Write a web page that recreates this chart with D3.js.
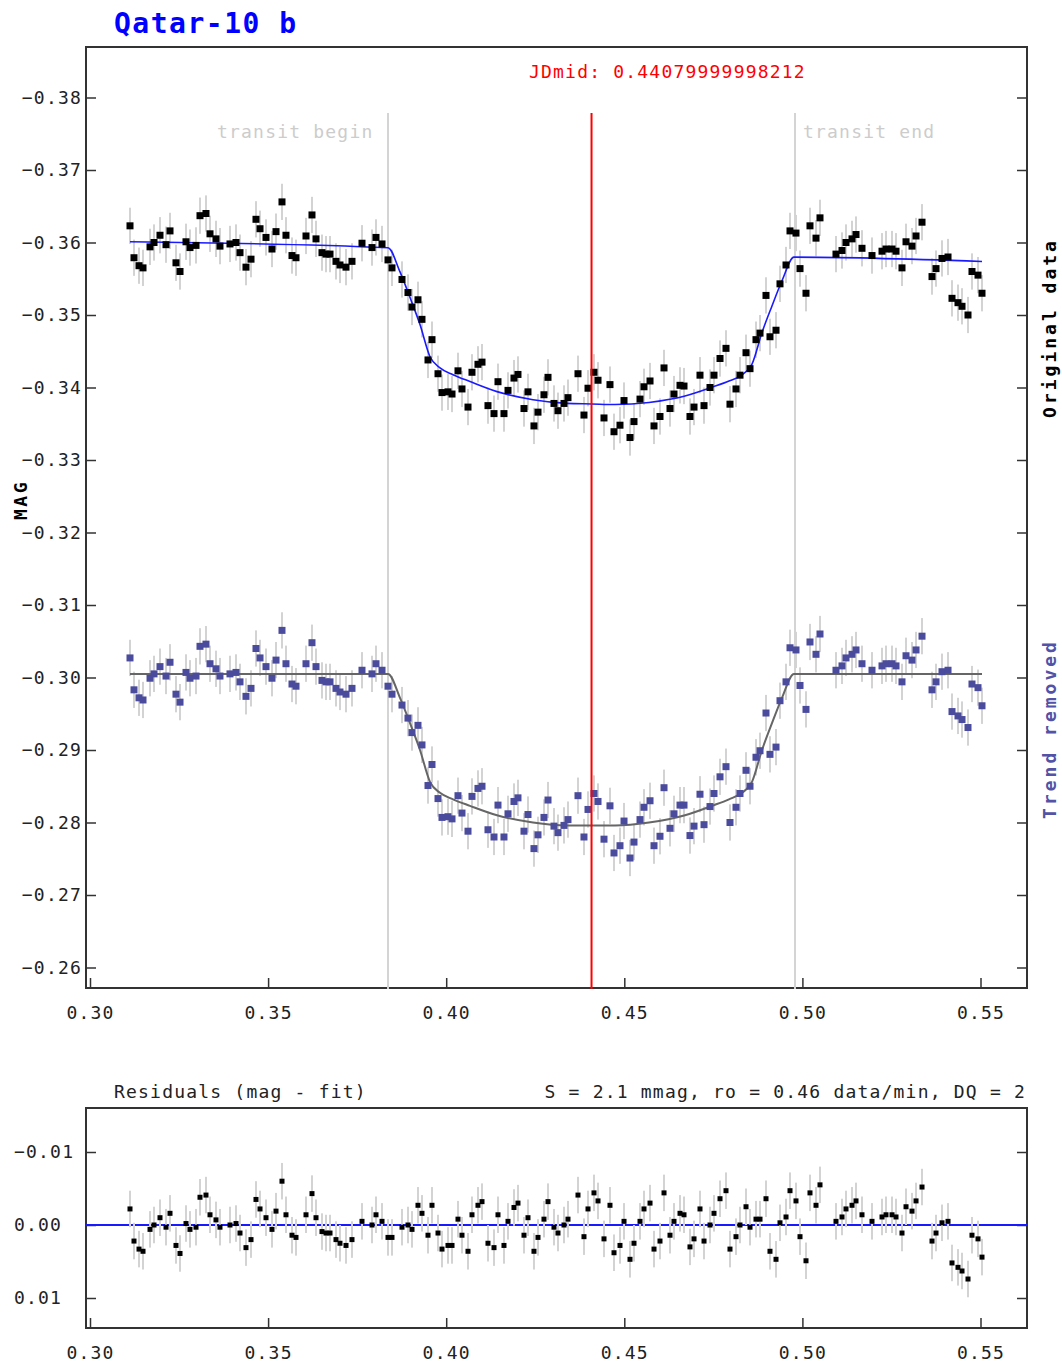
<!DOCTYPE html>
<html><head><meta charset="utf-8">
<script src="https://cdn.jsdelivr.net/npm/d3@7"></script>
<style>
body{margin:0;background:#fff}
svg{display:block}
text{font-family:"DejaVu Sans Mono",monospace}
</style>
</head><body>
<svg id="c" width="1062" height="1365"></svg>
<script>
// ---------------- data ----------------
const times = [
0.31123,0.31235,0.31376,0.31488,0.31685,0.31797,0.31965,0.32134,0.32246,0.32414,
0.32527,0.32695,0.32807,0.32976,0.33088,0.33256,0.33369,0.33537,0.33649,0.33930,
0.34099,0.34211,0.34379,0.34520,0.34660,0.34773,0.34941,0.35109,0.35222,0.35390,
0.35502,0.35671,0.35783,0.36064,0.36232,0.36345,0.36513,0.36625,0.36738,0.36906,
0.37018,0.37187,0.37355,0.37636,0.37917,0.38029,0.38198,0.38366,0.38478,0.38759,
0.38927,0.39040,0.39208,0.39320,0.39489,0.39601,0.39770,0.39882,0.40050,0.40163,
0.40331,0.40443,0.40612,0.40724,0.40892,0.41005,0.41173,0.41342,0.41454,0.41622,
0.41735,0.41903,0.42015,0.42184,0.42296,0.42464,0.42577,0.42745,0.42858,0.43026,
0.43138,0.43307,0.43419,0.43700,0.43868,0.43981,0.44149,0.44262,0.44430,0.44598,
0.44711,0.44879,0.44992,0.45160,0.45272,0.45441,0.45553,0.45722,0.45834,0.46002,
0.46115,0.46283,0.46395,0.46564,0.46676,0.46844,0.46957,0.47125,0.47238,0.47406,
0.47518,0.47687,0.47855,0.47967,0.48136,0.48248,0.48417,0.48529,0.48697,0.48810,
0.48978,0.49090,0.49259,0.49371,0.49540,0.49652,0.49820,0.49933,0.50101,0.50213,
0.50382,0.50494,0.50943,0.51112,0.51224,0.51393,0.51505,0.51673,0.51954,0.52235,
0.52347,0.52516,0.52628,0.52796,0.52909,0.53077,0.53190,0.53358,0.53639,0.53751,
0.53919,0.54088,0.54200,0.54368,0.54481,0.54649,0.54761,0.54930,0.55042];

const originalMag = [
-0.3623,-0.3579,-0.3568,-0.3565,-0.3594,-0.3600,-0.3610,-0.3597,-0.3616,-0.3572,
-0.3560,-0.3601,-0.3593,-0.3596,-0.3637,-0.3640,-0.3612,-0.3605,-0.3595,-0.3598,
-0.3600,-0.3586,-0.3566,-0.3577,-0.3632,-0.3619,-0.3607,-0.3591,-0.3615,-0.3656,
-0.3610,-0.3582,-0.3579,-0.3609,-0.3638,-0.3605,-0.3586,-0.3584,-0.3584,-0.3574,
-0.3569,-0.3566,-0.3574,-0.3599,-0.3593,-0.3607,-0.3598,-0.3576,-0.3565,-0.3549,
-0.3531,-0.3511,-0.3521,-0.3494,-0.3438,-0.3466,-0.3419,-0.3393,-0.3394,-0.3391,
-0.3423,-0.3398,-0.3373,-0.3421,-0.3432,-0.3435,-0.3375,-0.3364,-0.3408,-0.3364,
-0.3396,-0.3413,-0.3418,-0.3371,-0.3394,-0.3347,-0.3366,-0.3390,-0.3414,-0.3378,
-0.3368,-0.3378,-0.3386,-0.3419,-0.3362,-0.3399,-0.3421,-0.3410,-0.3358,-0.3404,
-0.3339,-0.3348,-0.3382,-0.3331,-0.3353,-0.3384,-0.3401,-0.3409,-0.3347,-0.3360,
-0.3427,-0.3371,-0.3391,-0.3403,-0.3402,-0.3360,-0.3373,-0.3417,-0.3375,-0.3400,
-0.3417,-0.3440,-0.3454,-0.3377,-0.3398,-0.3417,-0.3448,-0.3426,-0.3466,-0.3475,
-0.3527,-0.3470,-0.3479,-0.3543,-0.3569,-0.3616,-0.3613,-0.3564,-0.3530,-0.3623,
-0.3606,-0.3634,-0.3584,-0.3589,-0.3600,-0.3605,-0.3611,-0.3592,-0.3582,-0.3588,
-0.3591,-0.3591,-0.3588,-0.3565,-0.3601,-0.3595,-0.3609,-0.3628,-0.3553,-0.3564,
-0.3578,-0.3580,-0.3523,-0.3517,-0.3512,-0.3500,-0.3560,-0.3555,-0.3530];

const trendRemovedMag = [
-0.3027,-0.2983,-0.2972,-0.2969,-0.2999,-0.3005,-0.3015,-0.3002,-0.3021,-0.2977,
-0.2966,-0.3007,-0.2999,-0.3002,-0.3043,-0.3046,-0.3019,-0.3012,-0.3002,-0.3005,
-0.3007,-0.2994,-0.2974,-0.2985,-0.3040,-0.3027,-0.3015,-0.2999,-0.3024,-0.3065,
-0.3019,-0.2991,-0.2988,-0.3019,-0.3048,-0.3015,-0.2996,-0.2994,-0.2994,-0.2985,
-0.2980,-0.2977,-0.2985,-0.3010,-0.3005,-0.3019,-0.3010,-0.2988,-0.2977,-0.2962,
-0.2944,-0.2924,-0.2934,-0.2907,-0.2851,-0.2880,-0.2833,-0.2807,-0.2808,-0.2805,
-0.2837,-0.2813,-0.2788,-0.2836,-0.2847,-0.2850,-0.2790,-0.2780,-0.2824,-0.2780,
-0.2812,-0.2829,-0.2834,-0.2788,-0.2811,-0.2764,-0.2783,-0.2807,-0.2831,-0.2795,
-0.2786,-0.2796,-0.2804,-0.2837,-0.2780,-0.2818,-0.2840,-0.2829,-0.2777,-0.2823,
-0.2758,-0.2768,-0.2802,-0.2751,-0.2773,-0.2804,-0.2821,-0.2830,-0.2768,-0.2781,
-0.2848,-0.2792,-0.2812,-0.2824,-0.2824,-0.2782,-0.2795,-0.2839,-0.2797,-0.2822,
-0.2840,-0.2863,-0.2877,-0.2800,-0.2821,-0.2840,-0.2872,-0.2850,-0.2890,-0.2899,
-0.2951,-0.2894,-0.2904,-0.2968,-0.2994,-0.3041,-0.3038,-0.2989,-0.2956,-0.3049,
-0.3032,-0.3060,-0.3010,-0.3016,-0.3027,-0.3032,-0.3038,-0.3019,-0.3010,-0.3016,
-0.3019,-0.3019,-0.3016,-0.2994,-0.3030,-0.3024,-0.3038,-0.3057,-0.2983,-0.2994,
-0.3008,-0.3010,-0.2953,-0.2947,-0.2942,-0.2931,-0.2991,-0.2986,-0.2961];

const residualMag = [
-0.0022,0.0022,0.0033,0.0036,0.0006,0.0000,-0.0010,0.0003,-0.0016,0.0028,
0.0039,-0.0002,0.0006,0.0003,-0.0038,-0.0041,-0.0014,-0.0007,0.0003,0.0000,
-0.0002,0.0011,0.0031,0.0020,-0.0035,-0.0022,-0.0010,0.0006,-0.0019,-0.0060,
-0.0014,0.0014,0.0017,-0.0014,-0.0043,-0.0010,0.0009,0.0011,0.0011,0.0020,
0.0025,0.0028,0.0020,-0.0005,0.0000,-0.0014,-0.0005,0.0017,0.0017,0.0003,
0.0000,0.0006,-0.0027,-0.0016,0.0014,-0.0027,0.0011,0.0033,0.0028,0.0028,
-0.0008,0.0014,0.0036,-0.0014,-0.0027,-0.0032,0.0025,0.0031,-0.0014,0.0028,
-0.0005,-0.0024,-0.0030,0.0014,-0.0010,0.0036,0.0017,-0.0008,-0.0032,0.0003,
0.0011,0.0000,-0.0008,-0.0041,0.0016,-0.0022,-0.0044,-0.0033,0.0019,-0.0027,
0.0038,0.0028,-0.0005,0.0047,0.0025,-0.0005,-0.0022,-0.0030,0.0033,0.0022,
-0.0044,0.0014,-0.0005,-0.0016,-0.0014,0.0030,0.0019,-0.0022,0.0022,0.0000,
-0.0016,-0.0036,-0.0047,0.0033,0.0016,0.0000,-0.0025,0.0003,-0.0008,-0.0008,
-0.0036,0.0036,0.0047,-0.0003,-0.0011,-0.0047,-0.0033,0.0016,0.0049,-0.0044,
-0.0027,-0.0055,-0.0005,-0.0011,-0.0022,-0.0027,-0.0033,-0.0014,-0.0005,-0.0011,
-0.0014,-0.0014,-0.0011,0.0011,-0.0025,-0.0019,-0.0033,-0.0052,0.0022,0.0011,
-0.0003,-0.0005,0.0052,0.0058,0.0063,0.0074,0.0014,0.0019,0.0044];

const errorMag = 0.0025;

// fitted transit model (knots)
const fitTimes = [0.31123,0.38366,0.38703,0.38984,0.39264,0.39545,0.39826,0.40191,0.40668,0.41426,
  0.42437,0.43391,0.44080,0.44739,0.45693,0.46704,0.47462,0.47939,0.48304,0.48585,
  0.48866,0.49146,0.49427,0.49764,0.55042];
const fitOriginal = [-0.36010,-0.35928,-0.35594,-0.35241,-0.34868,-0.34424,-0.34271,-0.34177,-0.34082,-0.33943,
  -0.33831,-0.33781,-0.33773,-0.33765,-0.33794,-0.33883,-0.34004,-0.34089,-0.34175,-0.34322,
  -0.34758,-0.35125,-0.35472,-0.35798,-0.35738];
const fitTrendRemoved = [-0.30050,-0.30050,-0.29720,-0.29370,-0.29000,-0.28560,-0.28410,-0.28320,-0.28230,-0.28100,
  -0.28000,-0.27960,-0.27960,-0.27960,-0.28000,-0.28100,-0.28230,-0.28320,-0.28410,-0.28560,
  -0.29000,-0.29370,-0.29720,-0.30050,-0.30050];

const xTicks = [0.30,0.35,0.40,0.45,0.50,0.55];
const yTicks = [-0.38,-0.37,-0.36,-0.35,-0.34,-0.33,-0.32,-0.31,-0.30,-0.29,-0.28,-0.27,-0.26];
const resTicks = [-0.01,0.00,0.01];
const transitBegin = 0.38366, transitEnd = 0.49792, jdMid = 0.44079999998212;
const titleText = "Qatar-10 b";
const statsText = "S = 2.1 mmag, ro = 0.46 data/min, DQ = 2";

// ---------------- drawing ----------------
const svg = d3.select('#c');
const L = 86, R = 1027, T = 47, B = 988, RT = 1108, RB = 1328;
const x = d3.scaleLinear().domain([0.30, 0.55]).range([90, 980.5]);
const y = d3.scaleLinear().domain([-0.38, -0.26]).range([97.5, 967.5]);
const yr = d3.scaleLinear().domain([-0.01, 0.01]).range([1152, 1298]);

const pts = times.map((t, i) => ({t, o: originalMag[i], d: trendRemovedMag[i], r: residualMag[i]}));
const fit = fitTimes.map((t, i) => ({t, o: fitOriginal[i], d: fitTrendRemoved[i]}));

const FONT = 18, LS = 1.2;
function label(g, txt, px, py, anchor, fill) {
  return g.append('text').attr('x', px).attr('y', py).attr('text-anchor', anchor || 'start')
    .attr('font-size', FONT).attr('letter-spacing', LS).attr('fill', fill || '#222').text(txt);
}

// title
svg.append('text').attr('x', 114).attr('y', 33).attr('font-size', 28).attr('font-weight', 'bold')
  .attr('letter-spacing', 1.5).attr('fill', '#0000ff').text(titleText);

// ----- main panel -----
const main = svg.append('g');
main.append('rect').attr('x', L).attr('y', T).attr('width', R - L).attr('height', B - T)
  .attr('fill', 'none').attr('stroke', '#333').attr('stroke-width', 2);

function styleAxis(g) {
  g.select('.domain').remove();
  g.selectAll('.tick line').attr('stroke', '#333').attr('stroke-width', 1.5);
  g.selectAll('.tick text').attr('font-size', FONT).attr('letter-spacing', LS).attr('fill', '#222')
    .attr('font-family', '"DejaVu Sans Mono",monospace');
}
main.append('g').attr('transform', `translate(0,${B})`)
  .call(d3.axisBottom(x).tickValues(xTicks).tickSize(-10).tickPadding(18).tickFormat(d3.format('.2f')))
  .call(styleAxis);
main.append('g').attr('transform', `translate(${L},0)`)
  .call(d3.axisLeft(y).tickValues(yTicks).tickSize(-10).tickPadding(4).tickFormat(d3.format('.2f')))
  .call(styleAxis);
main.append('g').attr('transform', `translate(${R},0)`)
  .call(d3.axisRight(y).tickValues(yTicks).tickSize(-10).tickFormat(''))
  .call(styleAxis);

// transit begin / end lines
[transitBegin, transitEnd].forEach(t => {
  main.append('line').attr('x1', x(t)).attr('x2', x(t)).attr('y1', 113).attr('y2', B + 1)
    .attr('stroke', '#d4d4d4').attr('stroke-width', 2);
});
label(main, 'transit begin', 217, 138, 'start', '#cccccc');
label(main, 'transit end', 803, 138, 'start', '#cccccc');

// error bars
const eb = main.append('g').attr('stroke', '#d3d3d3').attr('stroke-width', 2);
eb.selectAll('.eo').data(pts).join('line').attr('class', 'eo')
  .attr('x1', d => x(d.t)).attr('x2', d => x(d.t))
  .attr('y1', d => y(d.o - errorMag)).attr('y2', d => y(d.o + errorMag));
eb.selectAll('.ed').data(pts).join('line').attr('class', 'ed')
  .attr('x1', d => x(d.t)).attr('x2', d => x(d.t))
  .attr('y1', d => y(d.d - errorMag)).attr('y2', d => y(d.d + errorMag));

// fits
main.append('path').datum(fit)
  .attr('d', d3.line().x(d => x(d.t)).y(d => y(d.o)).curve(d3.curveMonotoneX))
  .attr('fill', 'none').attr('stroke', '#1a1aff').attr('stroke-width', 1.6);
main.append('path').datum(fit)
  .attr('d', d3.line().x(d => x(d.t)).y(d => y(d.d)).curve(d3.curveMonotoneX))
  .attr('fill', 'none').attr('stroke', '#666').attr('stroke-width', 2);

// points
const S = 7;
main.selectAll('.po').data(pts).join('rect').attr('class', 'po')
  .attr('x', d => x(d.t) - S / 2).attr('y', d => y(d.o) - S / 2).attr('width', S).attr('height', S)
  .attr('fill', '#000');
main.selectAll('.pd').data(pts).join('rect').attr('class', 'pd')
  .attr('x', d => x(d.t) - S / 2).attr('y', d => y(d.d) - S / 2).attr('width', S).attr('height', S)
  .attr('fill', '#4b4b9d');

// mid line
main.append('line').attr('x1', x(jdMid)).attr('x2', x(jdMid)).attr('y1', 113).attr('y2', B + 1)
  .attr('stroke', '#ff0000').attr('stroke-width', 2);
label(main, 'JDmid: ' + jdMid, 529, 78, 'start', '#ff0000');

// side labels
svg.append('text').attr('transform', 'translate(27,500) rotate(-90)').attr('text-anchor', 'middle')
  .attr('font-size', 18).attr('font-weight', 'bold').attr('letter-spacing', 2.5).attr('fill', '#000').text('MAG');
svg.append('text').attr('transform', 'translate(1056,328) rotate(-90)').attr('text-anchor', 'middle')
  .attr('font-size', 18).attr('font-weight', 'bold').attr('letter-spacing', 3).attr('fill', '#000').text('Original data');
svg.append('text').attr('transform', 'translate(1056,729) rotate(-90)').attr('text-anchor', 'middle')
  .attr('font-size', 18).attr('font-weight', 'bold').attr('letter-spacing', 3).attr('fill', '#5252a6').text('Trend removed');

// ----- residual panel -----
const res = svg.append('g');
res.append('rect').attr('x', L).attr('y', RT).attr('width', R - L).attr('height', RB - RT)
  .attr('fill', 'none').attr('stroke', '#333').attr('stroke-width', 2);
res.append('g').attr('transform', `translate(0,${RB})`)
  .call(d3.axisBottom(x).tickValues(xTicks).tickSize(-10).tickPadding(18).tickFormat(d3.format('.2f')))
  .call(styleAxis);
const ra = res.append('g').attr('transform', `translate(${L},0)`)
  .call(d3.axisLeft(yr).tickValues(resTicks).tickSize(-10).tickFormat(d3.format('.2f')))
  .call(styleAxis);
ra.selectAll('.tick text').attr('text-anchor', 'start').attr('x', 14 - L);
res.append('g').attr('transform', `translate(${R},0)`)
  .call(d3.axisRight(yr).tickValues(resTicks).tickSize(-10).tickFormat(''))
  .call(styleAxis);

res.append('line').attr('x1', L).attr('x2', R).attr('y1', yr(0)).attr('y2', yr(0))
  .attr('stroke', '#1a1aff').attr('stroke-width', 2);
res.append('g').attr('stroke', '#d3d3d3').attr('stroke-width', 2)
  .selectAll('line').data(pts).join('line')
  .attr('x1', d => x(d.t)).attr('x2', d => x(d.t))
  .attr('y1', d => yr(d.r - errorMag)).attr('y2', d => yr(d.r + errorMag));
const SR = 5;
res.selectAll('.pr').data(pts).join('rect').attr('class', 'pr')
  .attr('x', d => x(d.t) - SR / 2).attr('y', d => yr(d.r) - SR / 2).attr('width', SR).attr('height', SR)
  .attr('fill', '#000');

label(res, 'Residuals (mag - fit)', 114, 1098, 'start');
label(res, statsText, 1026, 1098, 'end');
</script>
</body></html>
